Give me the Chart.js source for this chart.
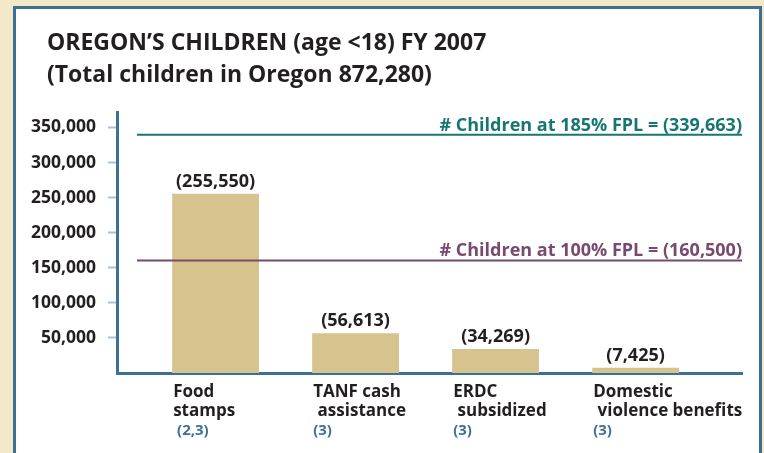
<!DOCTYPE html>
<html>
<head>
<meta charset="utf-8">
<script src="https://cdn.jsdelivr.net/npm/chart.js@4.4.0/dist/chart.umd.min.js"></script>
<style>
  html, body { margin: 0; padding: 0; width: 764px; height: 453px; overflow: hidden; background: #f3e9c8; }
  #panel { position: absolute; left: 13px; top: 6px; width: 743px; height: 470px; background: #fff; border: 3px solid #3e7096; }
  #wrap { position: absolute; left: 0; top: 0; width: 764px; height: 453px; }
</style>
</head>
<body>
<div id="panel"></div>
<div id="wrap"><canvas id="bar-chart"></canvas></div>
<script>
// chart data
const titleLines = ['OREGON\u2019S CHILDREN (age <18) FY 2007', '(Total children in Oregon 872,280)'];
const categories = [['Food', 'stamps'], ['TANF cash', ' assistance'], ['ERDC', ' subsidized'], ['Domestic', ' violence benefits']];
const sources = [' (2,3)', '(3)', '(3)', '(3)'];
const childrenServed = [255550, 56613, 34269, 7425];
const yTicks = [50000, 100000, 150000, 200000, 250000, 300000, 350000];
const fplLabels = ['# Children at 185% FPL', '# Children at 100% FPL'];
const fplValues = [339663, 160500];

// styles
const TEXT = '#231f20';
const BLUE = '#3e7096';
const fplColors = ['#177573', '#784a6d'];
const FONT = '"Open Sans", "Noto Sans", sans-serif';

const fmt = (v) => v.toLocaleString('en-US');

const textPlugin = {
  id: 'oregonText',
  afterDatasetsDraw: (chart) => {
    const ctx = chart.ctx;
    const y = chart.scales.y;
    const area = chart.chartArea;
    ctx.save();
    // FPL reference lines
    fplValues.forEach((v, i) => {
      const py = y.getPixelForValue(v);
      ctx.strokeStyle = fplColors[i];
      ctx.lineWidth = 2;
      ctx.beginPath();
      ctx.moveTo(area.left + 20, py);
      ctx.lineTo(area.right, py);
      ctx.stroke();
      ctx.fillStyle = fplColors[i];
      ctx.font = 'bold 18px ' + FONT;
      ctx.textAlign = 'right';
      ctx.textBaseline = 'alphabetic';
      ctx.fillText(fplLabels[i] + ' = (' + fmt(v) + ')', area.right, py - 4);
    });
    ctx.restore();
  },
  afterDraw: (chart) => {
    const ctx = chart.ctx;
    const meta = chart.getDatasetMeta(0);
    ctx.save();
    ctx.textBaseline = 'alphabetic';
    // title
    ctx.fillStyle = TEXT;
    ctx.textAlign = 'left';
    ctx.font = 'bold 23px ' + FONT;
    ctx.fillText(titleLines[0], 47, 50);
    ctx.fillText(titleLines[1], 47, 82);
    meta.data.forEach((bar, i) => {
      // value on top of the bar
      ctx.fillStyle = TEXT;
      ctx.textAlign = 'center';
      ctx.font = 'bold 18px ' + FONT;
      ctx.fillText('(' + fmt(childrenServed[i]) + ')', bar.x, bar.y - 7);
      // category labels under the axis
      const left = bar.x - bar.width / 2 + 1;
      ctx.textAlign = 'left';
      ctx.font = 'bold 17px ' + FONT;
      ctx.fillText(categories[i][0], left, 397);
      ctx.fillText(categories[i][1], left, 416);
      ctx.fillStyle = BLUE;
      ctx.font = 'bold 15px ' + FONT;
      ctx.fillText(sources[i], left, 435);
    });
    ctx.restore();
  }
};

const barCanvas = document.getElementById('bar-chart');
const barChart = new Chart(barCanvas, {
  type: 'bar',
  data: {
    datasets: [{
      data: childrenServed.map((v, i) => ({ x: i, y: v })),
      backgroundColor: '#d6c38e',
      borderWidth: 0,
      categoryPercentage: 1,
      barPercentage: 0.62
    }]
  },
  options: {
    responsive: true,
    maintainAspectRatio: false,
    animation: false,
    layout: { padding: { top: 112, right: 22, bottom: 80, left: 0 } },
    plugins: {
      legend: { display: false },
      tooltip: { enabled: false }
    },
    scales: {
      x: {
        type: 'linear',
        min: -0.704,
        max: 3.76,
        offset: false,
        z: 1,
        afterBuildTicks: (axis) => { axis.ticks = categories.map((c, i) => ({ value: i })); },
        ticks: { display: false },
        grid: { display: false },
        border: { display: true, color: BLUE, width: 3 },
        afterFit: (scale) => { scale.height = 0; }
      },
      y: {
        min: 0,
        max: 372000,
        z: 1,
        afterBuildTicks: (axis) => { axis.ticks = yTicks.map((v) => ({ value: v })); },
        afterFit: (scale) => { scale.width = 117; },
        ticks: {
          color: TEXT,
          padding: 12,
          font: { family: FONT, size: 17.5, weight: 'bold' },
          callback: (v) => fmt(v)
        },
        grid: {
          drawOnChartArea: false,
          drawTicks: true,
          tickLength: 9,
          tickWidth: 2,
          tickColor: '#a9c2d9'
        },
        border: { display: true, color: BLUE, width: 3 }
      }
    }
  },
  plugins: [textPlugin]
});
</script>
</body>
</html>
